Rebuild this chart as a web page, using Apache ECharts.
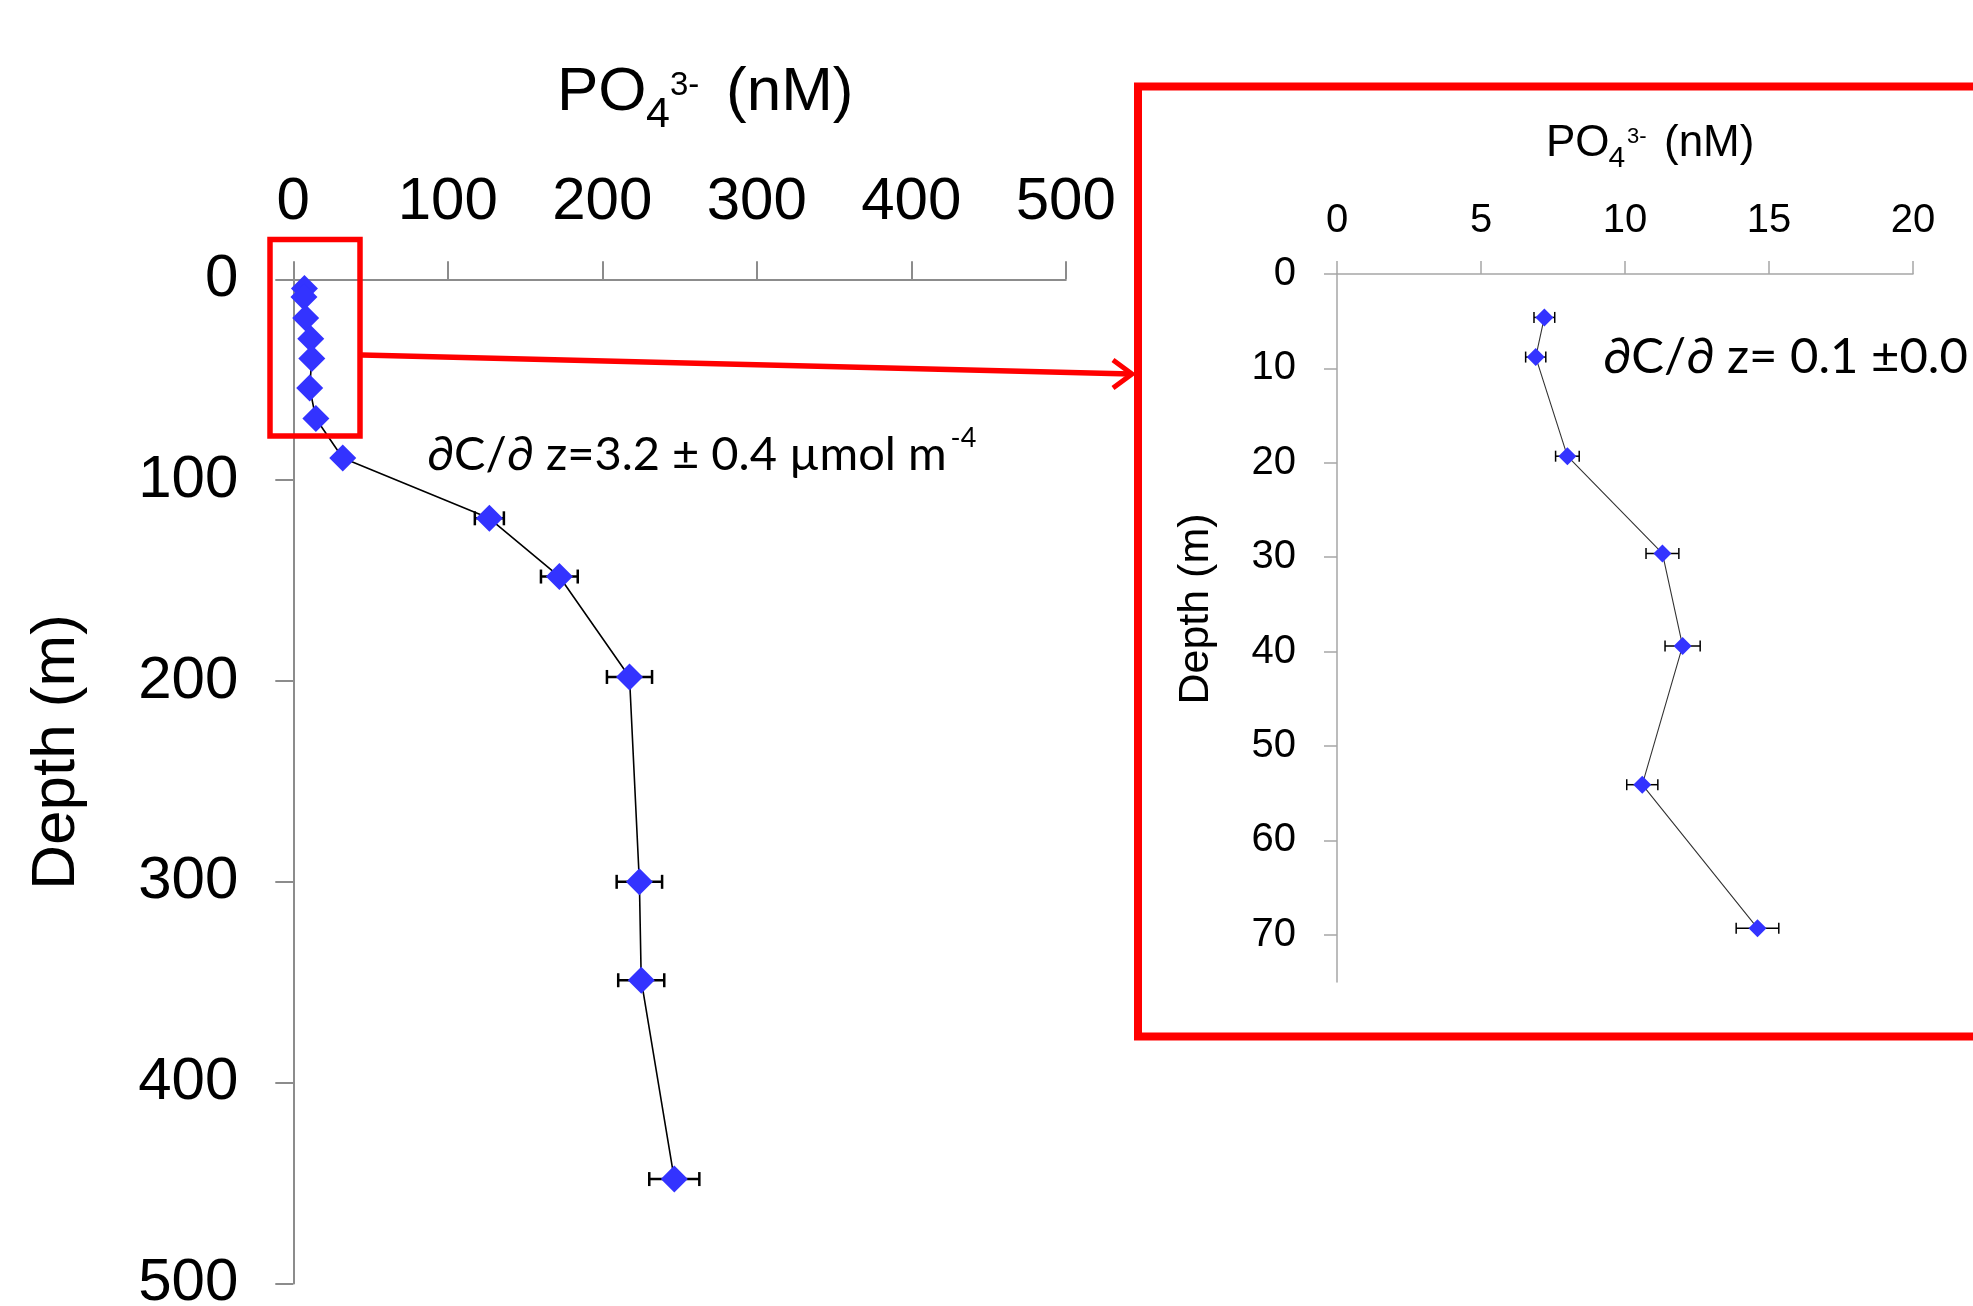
<!DOCTYPE html>
<html>
<head>
<meta charset="utf-8">
<title>PO4 depth profile</title>
<script src="https://cdn.jsdelivr.net/npm/echarts@6/dist/echarts.min.js"></script>
<style>
  html, body { margin: 0; padding: 0; background: #fff; }
  #chart { width: 1973px; height: 1306px; }
</style>
</head>
<body>
<div id="chart"></div>
<script>
// samples, top to bottom: depth (m), PO4 (nM), error (nM)
const depth  = [4.6, 8.8, 19.3, 29.6, 39.4, 54.1, 69.3, 89, 119, 148, 198, 300, 349, 448];
const po4    = [7.2, 6.9, 8.0, 11.3, 12.0, 10.6, 14.6, 32, 126.9, 172.2, 217.6, 224.0, 225.2, 246.6];
const po4Err = [0.36, 0.35, 0.41, 0.57, 0.61, 0.54, 0.74, 2, 9.4, 11.9, 14.6, 14.7, 14.9, 16.2];
const insetCount = 7; // the inset zooms on the upper samples

const insetDepthTicks = [0, 10, 20, 30, 40, 50, 60, 70];

const ARIAL = "'Liberation Sans', Arial, sans-serif";
const CALIBRI = "Lato, 'Open Sans', sans-serif";
const BLUE = '#3333ff';
const RED = '#ff0000';

const points = depth.map((d, i) => [po4[i], d]);
const errRows = depth.map((d, i) => [po4[i], d, po4Err[i]]);

function errorBars(capHalf, width) {
    return function (params, api) {
        const x = api.value(0), y = api.value(1), e = api.value(2);
        const lo = api.coord([x - e, y]);
        const hi = api.coord([x + e, y]);
        const style = { stroke: '#000', lineWidth: width };
        return {
            type: 'group',
            children: [
                { type: 'line', shape: { x1: lo[0], y1: lo[1], x2: hi[0], y2: hi[1] }, style: style },
                { type: 'line', shape: { x1: lo[0], y1: lo[1] - capHalf, x2: lo[0], y2: lo[1] + capHalf }, style: style },
                { type: 'line', shape: { x1: hi[0], y1: hi[1] - capHalf, x2: hi[0], y2: hi[1] + capHalf }, style: style }
            ]
        };
    };
}

function axisStyle(color, width, tickLen, fontSize, margin) {
    return {
        axisLine: { show: true, onZero: false, lineStyle: { color: color, width: width } },
        axisTick: { show: true, length: tickLen, lineStyle: { color: color, width: width } },
        axisLabel: { color: '#000', fontSize: fontSize, fontFamily: ARIAL, margin: margin },
        splitLine: { show: false }
    };
}

function txt(text, x, y, size, extra) {
    return Object.assign({
        type: 'text', x: x, y: y, silent: true,
        style: { text: text, fontSize: size, fontFamily: ARIAL, fill: '#000', align: 'left', verticalAlign: 'middle' }
    }, extra || {});
}

function vtxt(text, x, y, size) {
    return {
        type: 'text', x: x, y: y, silent: true, rotation: Math.PI / 2,
        style: { text: text, fontSize: size, fontFamily: ARIAL, fill: '#000', align: 'center', verticalAlign: 'middle' }
    };
}

const chart = echarts.init(document.getElementById('chart'));

const option = {
    animation: false,
    backgroundColor: '#fff',
    grid: [
        { left: 293.3, top: 279.3, width: 772.5, height: 1004.2, outerBoundsMode: 'none', containLabel: false },
        { left: 1337, top: 274, width: 576, height: 708, outerBoundsMode: 'none', containLabel: false }
    ],
    xAxis: [
        Object.assign({ gridIndex: 0, type: 'value', position: 'top', min: 0, max: 500, interval: 100 },
            axisStyle('#8c8c8c', 2, 18, 60, 47)),
        Object.assign({ gridIndex: 1, type: 'value', position: 'top', min: 0, max: 20, interval: 5 },
            axisStyle('#a6a6a6', 1.5, 13, 40, 33))
    ],
    yAxis: [
        Object.assign({ gridIndex: 0, type: 'value', inverse: true, min: 0, max: 500, interval: 100 },
            axisStyle('#8c8c8c', 2, 18, 60, 55)),
        (function () {
            const a = Object.assign({ gridIndex: 1, type: 'value', inverse: true, min: 0, max: 75 },
                axisStyle('#a6a6a6', 1.5, 13, 40, 41));
            a.axisTick.customValues = insetDepthTicks;
            a.axisLabel.customValues = insetDepthTicks;
            return a;
        })()
    ],
    series: [
        {
            type: 'custom', xAxisIndex: 0, yAxisIndex: 0, z: 2, silent: true,
            renderItem: errorBars(7, 2.5),
            encode: { x: 0, y: 1 },
            data: errRows
        },
        {
            type: 'line', xAxisIndex: 0, yAxisIndex: 0, z: 3, silent: true,
            data: points,
            symbol: 'diamond', symbolSize: 27, showAllSymbol: true,
            itemStyle: { color: BLUE },
            lineStyle: { color: '#000', width: 1.6 }
        },
        {
            type: 'custom', xAxisIndex: 1, yAxisIndex: 1, z: 2, silent: true,
            renderItem: errorBars(5.5, 1.5),
            encode: { x: 0, y: 1 },
            data: errRows.slice(0, insetCount)
        },
        {
            type: 'line', xAxisIndex: 1, yAxisIndex: 1, z: 3, silent: true,
            data: points.slice(0, insetCount),
            symbol: 'diamond', symbolSize: 18, showAllSymbol: true,
            itemStyle: { color: BLUE },
            lineStyle: { color: '#333', width: 1.1 }
        }
    ],
    graphic: [
        // main chart titles
        txt('PO', 557, 92.5, 62),
        txt('4', 646, 115.5, 43),
        txt('3-', 670, 86, 33),
        txt('(nM)', 726, 92.5, 62),
        vtxt('Depth (m)', 57, 752, 62),
        // inset titles
        txt('PO', 1546, 144, 44),
        txt('4', 1608.5, 159, 30),
        txt('3-', 1627, 137, 22),
        txt('(nM)', 1664, 144, 44),
        vtxt('Depth (m)', 1196, 609, 43),
        // gradient annotations
        {
            type: 'text', x: 427, y: 455, silent: true,
            style: {
                text: '{a|∂C/∂ z=3.2 ± 0.4 µmol m}{s|-4}',
                align: 'left', verticalAlign: 'middle',
                rich: {
                    a: { fontSize: 47, fontFamily: CALIBRI, fill: '#000', lineHeight: 60 },
                    s: { fontSize: 27, fontFamily: CALIBRI, fill: '#000', lineHeight: 46, verticalAlign: 'top', padding: [0, 0, 0, 4] }
                }
            }
        },
        {
            type: 'text', x: 1603, y: 357, silent: true,
            style: { text: '∂C/∂ z= 0.1 ±0.0', fontSize: 49, fontFamily: CALIBRI, fill: '#000', align: 'left', verticalAlign: 'middle' }
        },
        // zoom box, arrow and inset frame
        {
            type: 'rect', silent: true, z: 10,
            shape: { x: 270, y: 239.5, width: 90, height: 196.5 },
            style: { fill: 'none', stroke: RED, lineWidth: 5.5 }
        },
        {
            type: 'line', silent: true, z: 10,
            shape: { x1: 362, y1: 355, x2: 1131, y2: 374 },
            style: { stroke: RED, lineWidth: 5.5 }
        },
        {
            type: 'polyline', silent: true, z: 10,
            shape: { points: [[1113, 360], [1132, 374], [1113, 388]] },
            style: { fill: 'none', stroke: RED, lineWidth: 5 }
        },
        {
            type: 'rect', silent: true, z: 10,
            shape: { x: 1138, y: 86.5, width: 900, height: 950 },
            style: { fill: 'none', stroke: RED, lineWidth: 8 }
        }
    ]
};

chart.setOption(option);
</script>
</body>
</html>
